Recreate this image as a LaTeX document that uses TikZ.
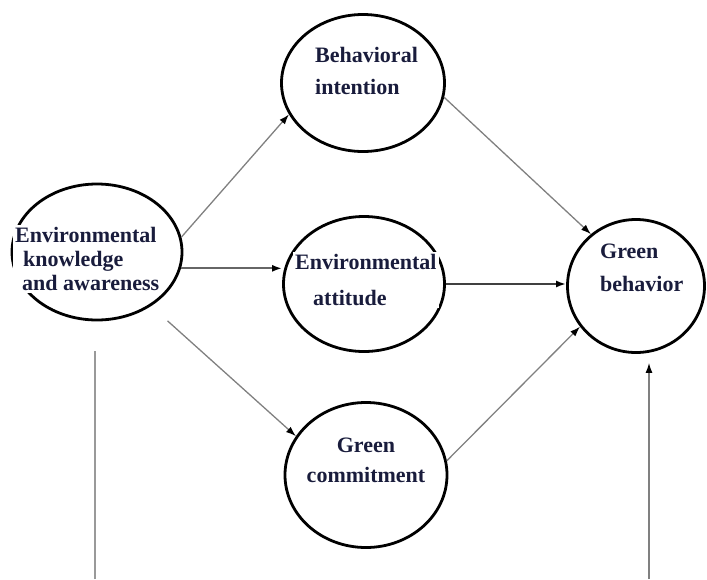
\documentclass[tikz,border=0pt]{standalone}
\usepackage{fontspec}
\setmainfont{Liberation Serif}
\usetikzlibrary{shapes.geometric,arrows.meta}
\definecolor{navy}{RGB}{25,28,60}
\begin{document}
\begin{tikzpicture}[x=1pt,y=-1pt,
    oval/.style={draw,ellipse,line width=2.8pt,inner sep=0pt},
    lbl/.style={fill=white,inner sep=2pt,text=navy,align=left},
    arr/.style={-{Latex[length=10pt,width=7pt,color=black]},gray,line width=1.3pt}]
  \useasboundingbox (0,0) rectangle (707,579);
  \draw
    (97,252) node[oval,minimum width=170pt,minimum height=136pt] (ek){}
    (363,83) node[oval,minimum width=163pt,minimum height=137pt] (bi){}
    (364,284) node[oval,minimum width=161pt,minimum height=135pt] (ea){}
    (366,475) node[oval,minimum width=162pt,minimum height=145pt] (gc){}
    (636,286) node[oval,minimum width=137pt,minimum height=133pt] (gb){};
  \draw
    (13,259) node[lbl,anchor=west,font=\bfseries\fontsize{22}{24}\selectfont] (ekt){Environmental\\\hspace*{8pt}knowledge\\\hspace*{7pt}and awareness}
    (313,71) node[lbl,anchor=west,font=\bfseries\fontsize{22}{32}\selectfont] (bit){Behavioral\\intention}
    (293,280) node[lbl,anchor=west,font=\bfseries\fontsize{22}{36}\selectfont] (eat){Environmental\\\hspace*{18pt}attitude}
    (366,460) node[lbl,align=center,font=\bfseries\fontsize{22}{30}\selectfont] (gct){Green\\commitment}
    (598,268) node[lbl,anchor=west,font=\bfseries\fontsize{22}{33}\selectfont] (gbt){Green\\behavior};
  \coordinate (ekin) at (95,579);
  \coordinate (gbin) at (649,579);
  \begin{scope}[arr]
    \draw (ek.10) to (bi.203);
    \draw[line width=2pt,black!60] (ek.349) to (ek.349 -| ea.west);
    \draw[shorten <=22pt] (ek.315) to (gc.151);
    \draw (bi.350) to (gb.131);
    \draw[line width=2.2pt,black!75] (ea.east) to (ea.east -| gb.west);
    \draw (gc.10) to (gb.216);
    \draw[shorten >=9pt] (gbin) to (gbin |- gb.south);
  \end{scope}
  \draw[gray!80,line width=1.8pt,shorten >=30pt] (ekin) to (ekin |- ek.south);
\end{tikzpicture}
\end{document}
